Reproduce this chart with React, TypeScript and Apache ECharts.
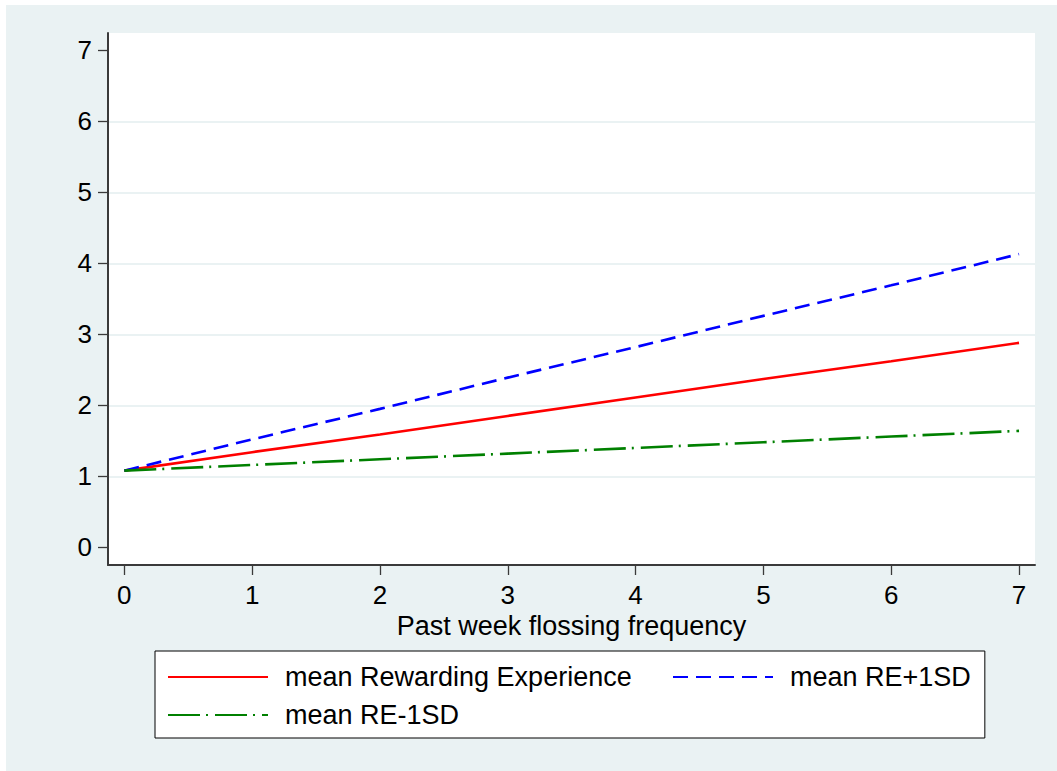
import React, { useEffect, useRef } from "react";
import * as echarts from "echarts";

const xValues = [0, 1, 2, 3, 4, 5, 6, 7];
const meanRE = [1.08, 1.34, 1.59, 1.85, 2.11, 2.37, 2.62, 2.88];
const rePlus1SD = [1.08, 1.52, 1.95, 2.39, 2.82, 3.26, 3.69, 4.13];
const reMinus1SD = [1.08, 1.16, 1.24, 1.32, 1.40, 1.48, 1.56, 1.64];
const xTicks = [0, 1, 2, 3, 4, 5, 6, 7];
const yTicks = [0, 1, 2, 3, 4, 5, 6, 7];
const yGrid = [1, 2, 3, 4, 5, 6];
const seriesNames = ["mean Rewarding Experience", "mean RE+1SD", "mean RE-1SD"];
const xTitle = "Past week flossing frequency";

const FONT = "'Liberation Sans', Arial, Helvetica, sans-serif";
const BG = "#EAF2F3";
const AXIS = "#3a3a3a";

export default function App() {
  const ref = useRef<HTMLDivElement>(null);
  useEffect(() => {
    if (!ref.current) return;
    const chart = echarts.init(ref.current, null, { renderer: "svg" });
    const pairs = (ys: number[]) => xValues.map((x, i) => [x, ys[i]]);
    chart.setOption({
      animation: false,
      backgroundColor: BG,
      textStyle: { fontFamily: FONT },
      grid: {
        left: 102,
        top: 28,
        right: 22,
        bottom: 206,
        show: true,
        backgroundColor: "#fff",
        borderWidth: 0,
      },
      legend: {
        left: 149,
        top: 646,
        width: 820,
        orient: "horizontal",
        itemWidth: 100,
        itemHeight: 14,
        itemGap: 10,
        padding: [12, 14, 9, 12],
        backgroundColor: "#fff",
        borderColor: "#000",
        borderWidth: 1,
        borderRadius: 0,
        itemStyle: { opacity: 0 },
        data: seriesNames,
        formatter: (name: string) =>
          name === seriesNames[0] ? `{w|${name}}` : `{n|${name}}`,
        textStyle: {
          fontSize: 27,
          color: "#000",
          fontFamily: FONT,
          lineHeight: 28,
          rich: {
            w: { width: 377, fontSize: 27, lineHeight: 28, padding: [0, 0, 0, 12], fontFamily: FONT, color: "#000" },
            n: { fontSize: 27, lineHeight: 28, padding: [0, 0, 0, 12], fontFamily: FONT, color: "#000" },
          },
        },
      },
      xAxis: {
        type: "value",
        min: -0.1275,
        max: 7.125,
        name: xTitle,
        nameLocation: "middle",
        nameGap: 42,
        nameTextStyle: { fontSize: 27, color: "#000", fontFamily: FONT },
        axisLine: { show: true, onZero: false, lineStyle: { color: AXIS, width: 2 } },
        axisTick: { show: true, customValues: xTicks, length: 10, lineStyle: { color: AXIS, width: 1.3 } },
        axisLabel: { customValues: xTicks, fontSize: 26, color: "#000", margin: 17, fontFamily: FONT },
        splitLine: { show: false },
      },
      yAxis: [
        {
          type: "value",
          min: -0.249,
          max: 7.244,
          axisLine: { show: true, onZero: false, lineStyle: { color: AXIS, width: 2 } },
          axisTick: { show: true, customValues: yTicks, length: 10, lineStyle: { color: AXIS, width: 1.3 } },
          axisLabel: { customValues: yTicks, fontSize: 26, color: "#000", margin: 16, fontFamily: FONT },
          splitLine: { show: false },
        },
        {
          type: "value",
          min: -0.249,
          max: 7.244,
          position: "left",
          axisLine: { show: false },
          axisTick: { show: false, customValues: yGrid },
          axisLabel: { show: false },
          splitLine: { show: true, lineStyle: { color: BG, width: 2 } },
        },
      ],
      series: [
        {
          name: seriesNames[0],
          type: "line",
          data: pairs(meanRE),
          symbol: "none",
          lineStyle: { color: "#ff0000", width: 2.6, type: "solid" },
          itemStyle: { color: "#ff0000" },
          z: 5,
        },
        {
          name: seriesNames[1],
          type: "line",
          data: pairs(rePlus1SD),
          symbol: "none",
          lineStyle: { color: "#0000ff", width: 2.6, type: [15, 8] },
          itemStyle: { color: "#0000ff" },
          z: 5,
        },
        {
          name: seriesNames[2],
          type: "line",
          data: pairs(reMinus1SD),
          symbol: "none",
          lineStyle: { color: "#008000", width: 2.6, type: [32, 6, 2, 7] },
          itemStyle: { color: "#008000" },
          z: 5,
        },
      ],
    });
    return () => chart.dispose();
  }, []);
  return (
    <div
      ref={ref}
      style={{ position: "absolute", left: 6, top: 5, width: 1051, height: 766 }}
    />
  );
}
